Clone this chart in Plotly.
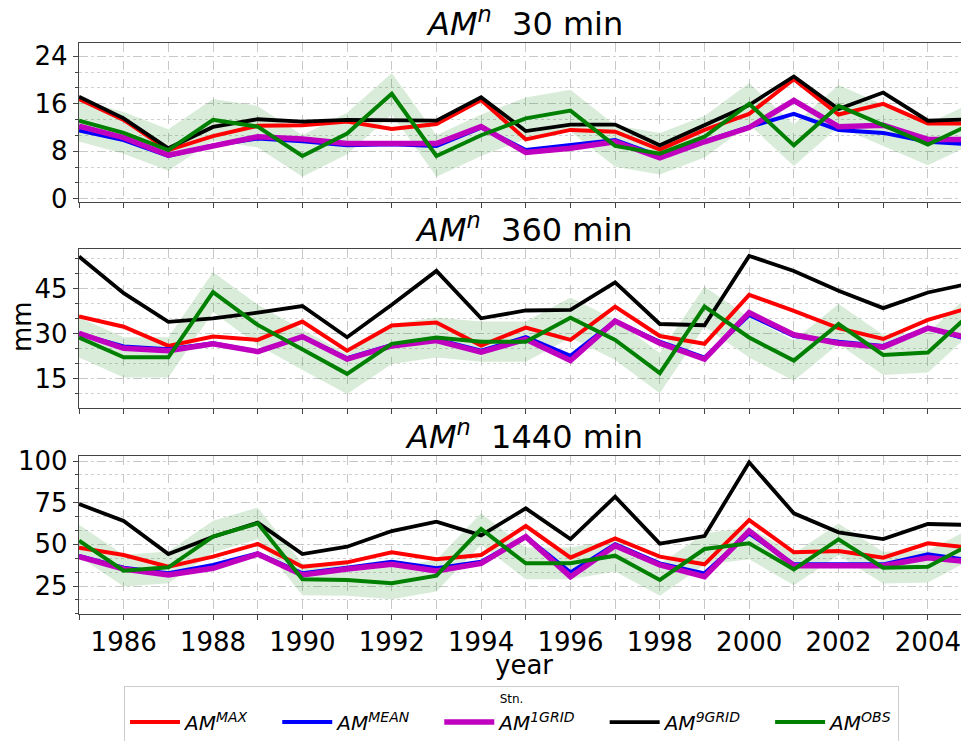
import plotly.graph_objects as go

# ---------------- data ----------------
years = list(range(1985, 2006))
tick_years = list(range(1985, 2006))
tick_labels = [str(y) if y % 2 == 0 else "" for y in tick_years]

series_names = ["<i>AM<sup>MAX</sup></i>", "<i>AM<sup>MEAN</sup></i>",
                "<i>AM<sup>1GRID</sup></i>", "<i>AM<sup>9GRID</sup></i>",
                "<i>AM<sup>OBS</sup></i>"]

# 30 min
max_30 = [16.8, 13.3, 8.2, 10.55, 12.3, 12.4, 13.0, 11.75, 12.6, 16.65, 10.0,
          11.6, 11.3, 8.3, 11.6, 14.3, 20.15, 14.2, 16.0, 12.7, 12.7]
mean_30 = [11.5, 9.9, 7.2, 9.0, 10.15, 9.7, 9.0, 9.2, 8.9, 12.0, 8.2,
           9.0, 9.9, 7.2, 9.6, 12.1, 14.3, 11.6, 11.1, 9.6, 9.17]
grid1_30 = [12.25, 10.3, 7.35, 8.85, 10.45, 10.05, 9.3, 9.3, 9.3, 12.15, 7.8,
            8.5, 9.6, 6.9, 9.6, 12.0, 16.55, 12.15, 12.4, 10.0, 10.0]
grid9_30 = [17.2, 13.55, 8.5, 12.1, 13.4, 13.0, 13.3, 13.15, 13.15, 17.1, 11.4,
            12.5, 12.5, 9.0, 12.4, 15.8, 20.6, 15.1, 17.9, 13.15, 13.42]
obs_30 = [13.15, 11.1, 8.2, 13.3, 12.15, 7.2, 11.0, 17.7, 7.2, 10.7, 13.55,
          14.85, 8.9, 7.6, 10.45, 16.0, 9.0, 15.65, 12.4, 9.15, 12.7]

# 360 min
max_360 = [35.8, 32.4, 26.0, 29.1, 28.0, 34.1, 24.4, 32.8, 33.8, 26.1, 32.1,
           28.0, 39.1, 29.3, 26.7, 43.0, 37.7, 31.9, 28.3, 34.7, 39.0]
mean_360 = [30.0, 25.8, 24.9, 26.9, 24.1, 29.1, 21.9, 26.3, 28.2, 24.4, 28.9,
            22.7, 34.3, 27.4, 22.1, 36.3, 29.3, 27.4, 26.0, 31.9, 27.7]
grid1_360 = [30.2, 25.2, 24.4, 26.7, 24.1, 29.1, 21.6, 26.0, 27.8, 23.9, 28.2,
             21.1, 34.3, 26.9, 21.6, 37.1, 29.7, 26.9, 25.6, 31.9, 28.3]
grid9_360 = [55.8, 43.6, 34.0, 35.2, 37.1, 39.3, 28.9, 39.7, 51.0, 35.2, 37.8,
             38.0, 47.2, 33.3, 32.9, 56.0, 51.0, 44.4, 38.6, 43.8, 47.0]
obs_360 = [28.8, 22.2, 22.2, 43.9, 33.0, 24.7, 16.7, 26.7, 28.8, 27.4, 27.4,
           35.4, 28.0, 16.9, 39.1, 28.8, 21.1, 33.3, 23.0, 23.8, 37.4]

# 1440 min
max_1440 = [48.0, 43.6, 36.6, 42.6, 50.2, 36.6, 39.2, 45.2, 41.0, 43.6, 61.0,
            42.0, 53.6, 42.6, 38.0, 64.6, 45.2, 46.0, 42.0, 50.6, 47.8]
mean_1440 = [43.0, 36.0, 32.6, 37.6, 44.6, 32.6, 36.0, 39.6, 35.6, 39.6, 54.6,
             33.2, 50.0, 38.6, 32.6, 56.6, 38.0, 38.0, 38.0, 44.0, 40.3]
grid1_1440 = [42.6, 35.2, 31.6, 35.6, 44.2, 31.6, 35.2, 38.0, 34.0, 38.6, 54.6,
              30.6, 49.2, 37.6, 30.6, 58.0, 37.2, 37.2, 37.2, 42.0, 39.4]
grid9_1440 = [74.2, 64.0, 44.2, 54.6, 63.0, 44.2, 48.6, 58.0, 63.6, 55.4, 71.6,
              53.2, 78.6, 50.4, 55.0, 99.2, 68.6, 57.2, 53.2, 62.2, 61.6]
obs_1440 = [52.2, 34.2, 36.2, 54.6, 62.6, 29.0, 28.6, 26.6, 31.2, 59.2, 38.6,
            38.6, 43.2, 28.6, 47.2, 50.6, 35.0, 53.0, 36.0, 36.6, 50.7]

# half-width of the shaded band around the observations, per panel
band_half = [3.5, 6.7, 9.5]

panel_titles = ["30 min", "360 min", "1440 min"]
y_ticks = [[0, 8, 16, 24], [15, 30, 45], [25, 50, 75, 100]]
y_ranges = [[-0.5, 26.3], [5.4, 58.2], [8.2, 103.2]]

panels = [
    [max_30, mean_30, grid1_30, grid9_30, obs_30],
    [max_360, mean_360, grid1_360, grid9_360, obs_360],
    [max_1440, mean_1440, grid1_1440, grid9_1440, obs_1440],
]

# ---------------- styling / layout ----------------
colors = ["#ff0000", "#0000ff", "#bf00bf", "#000000", "#008000"]
widths = [4, 4, 5.5, 3.8, 4]
OFF = 8                      # page body margin
W, H = 969 - OFF, 741 - OFF  # figure size so plot ends at page edge
ML = 79 - OFF                # left margin (page x of y-axis = 79)
FONT = "DejaVu Sans"
PAD = "\u00a0" * 3 + "\u2009"  # column spacing between legend entries


def fy(page_y):
    return 1 - (page_y - OFF) / H


def fx(page_x):
    return (page_x - OFF - ML) / (W - ML)


# panel pixel extents on the page (top, bottom)
panel_px = [(42.7, 201.7), (249.3, 407.7), (455.7, 614.0)]
domains = [[fy(b), fy(t)] for (t, b) in panel_px]

fig = go.Figure()

for i, data in enumerate(panels):
    xa = "x" if i == 0 else f"x{i+1}"
    ya = "y" if i == 0 else f"y{i+1}"
    obs = data[4]
    lo = [v - band_half[i] for v in obs]
    hi = [v + band_half[i] for v in obs]
    fig.add_trace(go.Scatter(x=years, y=lo, mode="lines", line=dict(width=0),
                             hoverinfo="skip", showlegend=False, xaxis=xa, yaxis=ya))
    fig.add_trace(go.Scatter(x=years, y=hi, mode="lines", line=dict(width=0),
                             fill="tonexty", fillcolor="rgba(0,128,0,0.15)",
                             hoverinfo="skip", showlegend=False, xaxis=xa, yaxis=ya))
    for k in range(5):
        label = series_names[k] + (PAD if k < 4 else "")
        fig.add_trace(go.Scatter(
            x=years, y=data[k], mode="lines", name=label,
            line=dict(color=colors[k], width=widths[k]),
            showlegend=(i == 0), xaxis=xa, yaxis=ya))

grid_col = "#c8c8c8"
axis_common = dict(showline=True, linecolor="#444444", linewidth=1.3,
                   ticks="outside", ticklen=5, tickcolor="#444444",
                   showgrid=True, gridcolor=grid_col, griddash="dash", gridwidth=1,
                   zeroline=False, tickfont=dict(family=FONT, size=26, color="#000"))

layout = dict(
    width=W, height=H,
    margin=dict(l=ML, r=0, t=0, b=0, autoexpand=False),
    plot_bgcolor="white", paper_bgcolor="white",
    font=dict(family=FONT, color="#000"),
    annotations=[],
)

for i in range(3):
    xk = "xaxis" if i == 0 else f"xaxis{i+1}"
    yk = "yaxis" if i == 0 else f"yaxis{i+1}"
    ya = "y" if i == 0 else f"y{i+1}"
    xa = "x" if i == 0 else f"x{i+1}"
    layout[xk] = dict(axis_common, domain=[0, 1], anchor=ya,
                      range=[1985, 2004.92], tickvals=tick_years,
                      ticktext=tick_labels if i == 2 else [""] * len(tick_years),
                      mirror=True, matches=None if i == 0 else "x")
    dt = y_ticks[i][1] - y_ticks[i][0]
    layout[yk] = dict(axis_common, domain=domains[i], anchor=xa,
                      range=y_ranges[i], tickvals=y_ticks[i], mirror=False,
                      minor=dict(dtick=dt / 3, tick0=0, showgrid=True,
                                 gridcolor="#d0d0d0", griddash="dot",
                                 ticks="outside", ticklen=3, tickcolor="#444444"))
    layout["annotations"].append(dict(
        text="<i>AM<sup>n</sup></i>\u00a0\u00a0" + panel_titles[i],
        xref="paper", yref="paper", x=0.5, y=domains[i][1],
        xanchor="center", yanchor="bottom", yshift=-2, showarrow=False,
        font=dict(family=FONT, size=32, color="#000")))

layout["annotations"].append(dict(
    text="mm", xref="paper", yref="paper", x=fx(22), y=fy(327),
    xanchor="center", yanchor="middle", textangle=-90, showarrow=False,
    font=dict(family=FONT, size=26, color="#000")))
layout["annotations"].append(dict(
    text="year", xref="paper", yref="paper", x=0.5, y=fy(665),
    xanchor="center", yanchor="middle", showarrow=False,
    font=dict(family=FONT, size=26, color="#000")))

layout["legend"] = dict(
    orientation="h", x=fx(124), xanchor="left",
    y=fy(686), yanchor="top", traceorder="normal",
    bordercolor="#cccccc", borderwidth=1, bgcolor="white",
    font=dict(family=FONT, size=20, color="#000"),
    title=dict(text="Stn.", side="top center", font=dict(family=FONT, size=12)),
    itemwidth=50,
)

fig.update_layout(**layout)
fig.write_html("out.html")
